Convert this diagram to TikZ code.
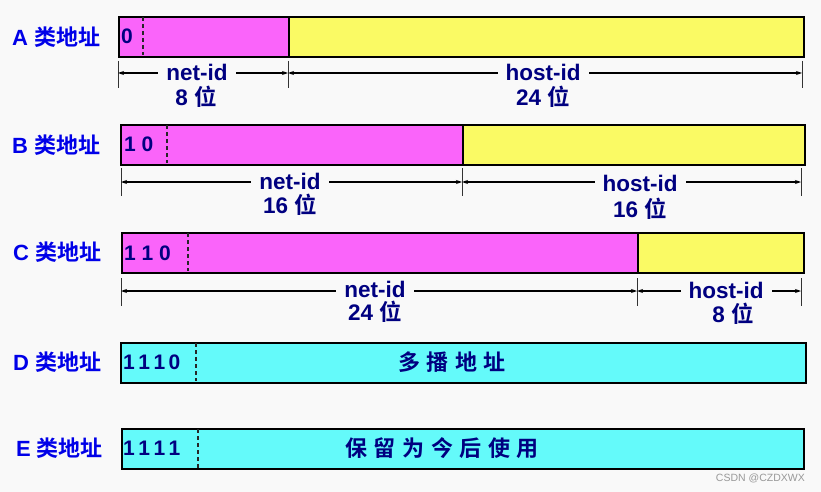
\documentclass[tikz,border=0pt]{standalone}
\usepackage{fontspec}
\setmainfont{Liberation Sans}
\newfontfamily\cjk{Noto Sans CJK SC}[BoldFont={Noto Sans CJK SC Bold}]
\usetikzlibrary{arrows.meta}
\definecolor{bg}{RGB}{249,249,249}
\definecolor{mag}{RGB}{250,100,250}
\definecolor{yel}{RGB}{250,250,100}
\definecolor{cya}{RGB}{100,250,250}
\definecolor{navy}{RGB}{0,0,128}
\definecolor{lblue}{RGB}{0,0,232}
\newcommand{\zh}[1]{{\cjk\bfseries #1}}
\begin{document}
\begin{tikzpicture}[x=1pt,y=-1pt,
  field/.style={draw=black, line width=1.8pt, minimum height=40pt, inner sep=0pt, anchor=north west},
  sepline/.style={draw=black!85, line width=1.2pt, dash pattern=on 4pt off 3pt},
  tickline/.style={draw=black!80, line width=0.8pt},
  dimline/.style={draw=black, line width=1.3pt, {Stealth[length=6pt,width=4pt]}-{Stealth[length=6pt,width=4pt]}},
  bits/.style={anchor=west, text=navy, font=\fontsize{21}{25}\selectfont\bfseries, inner sep=0pt},
  classlbl/.style={anchor=west, text=lblue, font=\fontsize{22}{26}\selectfont\bfseries, inner sep=0pt},
  dimlbl/.style={text=navy, font=\fontsize{22.5}{26}\selectfont\bfseries, fill=bg, inner xsep=8pt, inner ysep=1pt},
  sizelbl/.style={text=navy, font=\fontsize{22.5}{26}\selectfont\bfseries, inner sep=0pt},
  inlbl/.style={text=navy, font=\fontsize{22}{26}\selectfont\bfseries, inner sep=0pt}
]
\fill[bg] (0,0) rectangle (821,492);
\useasboundingbox (0,0) rectangle (821,492);

% ---------- A ----------
\node[classlbl] (la) at (12,37) {A \zh{类地址}};
\node[field, fill=mag, minimum width=170pt] (anet) at (118,16) {};
\node[field, fill=yel, minimum width=515pt] (ahost) at (288,16) {};
\draw[sepline] (143,17) -- (143,55);
\node[bits] (abits) at (121,36) {0};
\draw[tickline] (118,61) -- (118,88);
\draw[tickline] (288,61) -- (288,88);
\draw[tickline] (802,61) -- (802,88);
\coordinate (a0) at (118,73);
\coordinate (a1) at (288,73);
\coordinate (a2) at (802,73);
\draw[dimline] (a0) -- (a1);
\draw[dimline] (a1) -- (a2);
\node[dimlbl] (anetid) at (197,72) {net-id};
\node[sizelbl] (anets) at (196,97) {8 \zh{位}};
\node[dimlbl] (ahostid) at (543,72) {host-id};
\node[sizelbl] (ahosts) at (543,97) {24 \zh{位}};

% ---------- B ----------
\node[classlbl] (lb) at (12,145) {B \zh{类地址}};
\node[field, fill=mag, minimum width=342pt] (bnet) at (120,124) {};
\node[field, fill=yel, minimum width=342pt] (bhost) at (462,124) {};
\draw[sepline] (167,125) -- (167,163);
\node[bits] (bbits) at (124,144) {1 0};
\draw[tickline] (121,168) -- (121,196);
\draw[tickline] (462,168) -- (462,196);
\draw[tickline] (801,168) -- (801,196);
\coordinate (b0) at (121,182);
\coordinate (b1) at (462,182);
\coordinate (b2) at (801,182);
\draw[dimline] (b0) -- (b1);
\draw[dimline] (b1) -- (b2);
\node[dimlbl] (bnetid) at (290,181) {net-id};
\node[sizelbl] (bnets) at (290,205) {16 \zh{位}};
\node[dimlbl] (bhostid) at (640,183) {host-id};
\node[sizelbl] (bhosts) at (640,209) {16 \zh{位}};

% ---------- C ----------
\node[classlbl] (lc) at (13,252) {C \zh{类地址}};
\node[field, fill=mag, minimum width=516pt] (cnet) at (121,232) {};
\node[field, fill=yel, minimum width=166pt] (chost) at (637,232) {};
\draw[sepline] (188,233) -- (188,271);
\node[bits] (cbits) at (124,253) {1 1 0};
\draw[tickline] (121,278) -- (121,306);
\draw[tickline] (637,278) -- (637,306);
\draw[tickline] (801,278) -- (801,306);
\coordinate (c0) at (121,291);
\coordinate (c1) at (637,291);
\coordinate (c2) at (801,291);
\draw[dimline] (c0) -- (c1);
\draw[dimline] (c1) -- (c2);
\node[dimlbl] (cnetid) at (375,289) {net-id};
\node[sizelbl] (cnets) at (375,312) {24 \zh{位}};
\node[dimlbl] (chostid) at (726,290) {host-id};
\node[sizelbl] (chosts) at (733,314) {8 \zh{位}};

% ---------- D ----------
\node[classlbl] (ld) at (13,362) {D \zh{类地址}};
\node[field, fill=cya, minimum width=685pt] (dbar) at (120,342) {};
\draw[sepline] (196,343) -- (196,381);
\node[bits] (dbits) at (123,362) {1\,1\,1\,0};
\node[inlbl] (dtext) at (452,362) {\zh{多\hspace{0.3em}播\hspace{0.3em}地\hspace{0.3em}址}};

% ---------- E ----------
\node[classlbl] (le) at (16,448) {E \zh{类地址}};
\node[field, fill=cya, minimum width=682pt] (ebar) at (121,428) {};
\draw[sepline] (198,429) -- (198,468);
\node[bits] (ebits) at (123,448) {1\,1\,1\,1};
\node[inlbl] (etext) at (442,448) {\zh{保\hspace{0.3em}留\hspace{0.3em}为\hspace{0.3em}今\hspace{0.3em}后\hspace{0.3em}使\hspace{0.3em}用}};

% watermark
\node[anchor=east, text=black!40, font=\fontsize{10.5}{12}\selectfont, inner sep=0pt] (wm) at (805,478) {CSDN @CZDXWX};
\end{tikzpicture}
\end{document}
